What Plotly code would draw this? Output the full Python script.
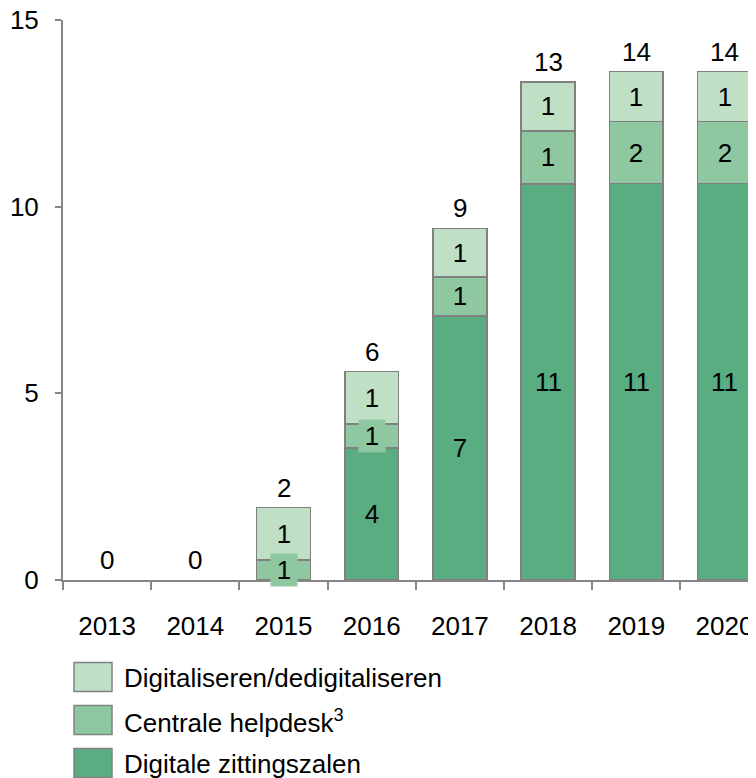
import plotly.graph_objects as go

years = ["2013", "2014", "2015", "2016", "2017", "2018", "2019", "2020"]
digitale_zittingszalen = [0, 0, 0, 3.54, 7.07, 10.61, 10.62, 10.62]
centrale_helpdesk = [0, 0, 0.54, 0.64, 1.05, 1.42, 1.66, 1.66]
digitaliseren = [0, 0, 1.40, 1.40, 1.30, 1.31, 1.34, 1.34]
series_names = ["Digitale zittingszalen", "Centrale helpdesk<sup>3</sup>", "Digitaliseren/dedigitaliseren"]
y_ticks = [0, 5, 10, 15]

colors = ["#5aad80", "#8fc8a0", "#bfe0c5"]
outline = "#808080"
axis_col = "#868686"
FONT = "Liberation Sans, Arial, sans-serif"
FS = 26

series = [digitale_zittingszalen, centrale_helpdesk, digitaliseren]

fig = go.Figure()
for name, vals, col in zip(series_names, series, colors):
    fig.add_trace(go.Bar(x=years, y=[v if v > 0 else None for v in vals], name=name, width=0.61,
                         marker=dict(color=col, line=dict(color=outline, width=1.5)),
                         showlegend=False, hoverinfo="skip"))

annotations = []
base = [0.0] * len(years)
for vals, col in zip(series, colors):
    for i, v in enumerate(vals):
        if v > 0:
            txt = str(int(v + 0.5))
            annotations.append(dict(x=i, y=base[i] + v / 2, xref="x", yref="y",
                                    text=txt, showarrow=False,
                                    font=dict(size=FS, color="black", family=FONT),
                                    bgcolor=col, borderpad=3,
                                    width=20 if len(txt) == 1 else None, height=26,
                                    xanchor="center", yanchor="middle"))
        base[i] += v
for i, t in enumerate(base):
    annotations.append(dict(x=i, y=t, xref="x", yref="y", text=str(int(t + 0.5)),
                            showarrow=False, font=dict(size=FS, color="black", family=FONT),
                            xanchor="center", yanchor="bottom", yshift=3))

# page offset of the plot div (body margin)
OFF = 8
W, H = 756, 778
L, T = 63 - OFF, 20 - OFF
B = H - (580 - OFF)
pw, ph = W - L, H - T - B
def px_x(p):
    return (p - OFF - L) / pw
def px_y(p):
    return (H - B - (p - OFF)) / ph
shapes = []
leg_centers = [677, 720, 763]
for k, (name, col) in enumerate(zip(series_names[::-1], colors[::-1])):
    cy = leg_centers[k]
    shapes.append(dict(type="rect", xref="paper", yref="paper",
                       x0=px_x(74), x1=px_x(112), y0=px_y(cy - 14.5), y1=px_y(cy + 14.5),
                       fillcolor=col, line=dict(color=outline, width=1.5)))
    annotations.append(dict(x=px_x(122), y=px_y(cy + 1), xref="paper", yref="paper", text=name,
                            showarrow=False, xanchor="left", yanchor="middle",
                            font=dict(size=FS, color="black", family=FONT)))

x_end = -0.5 + pw / 88.2

fig.update_layout(
    barmode="stack", width=W, height=H,
    margin=dict(l=L, r=0, t=T, b=B, autoexpand=False),
    paper_bgcolor="white", plot_bgcolor="white",
    font=dict(family=FONT, size=FS, color="black"),
    annotations=annotations, shapes=shapes,
    xaxis=dict(type="category", range=[-0.5, x_end], showline=True, linecolor=axis_col, linewidth=2,
               ticks="outside", tickson="boundaries", ticklen=8, tickcolor=axis_col, tickwidth=2,
               showgrid=False, ticklabelstandoff=22, tickfont=dict(size=FS, family=FONT),
               automargin=False, ticklabeloverflow="allow"),
    yaxis=dict(range=[0, 15], tickvals=y_ticks, showline=True, linecolor=axis_col, linewidth=2,
               ticks="outside", ticklen=6, tickcolor=axis_col, tickwidth=2, showgrid=False,
               zeroline=False, ticklabelstandoff=11, tickfont=dict(size=FS, family=FONT),
               automargin=False, ticklabeloverflow="allow"),
)
fig.write_html("out.html")
